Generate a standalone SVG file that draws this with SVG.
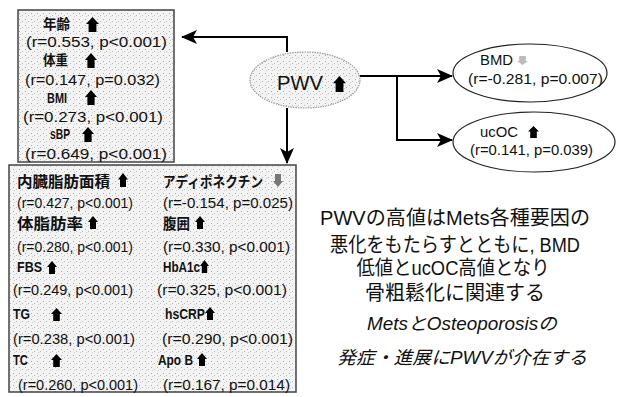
<svg xmlns="http://www.w3.org/2000/svg" xmlns:xlink="http://www.w3.org/1999/xlink" width="625" height="397" viewBox="0 0 625 397">
<style>
text{font-family:"Liberation Sans","Noto Sans CJK JP",sans-serif;fill:#111}
.lb{font-size:14px;font-weight:bold}
.jp{font-size:15px;font-weight:bold}
.nm{font-size:14px}
.big{font-size:20px}
.it{font-size:18px;font-style:italic}
.box{fill:url(#stip);stroke:#444;stroke-width:1.5}
.conn{fill:none;stroke:#000;stroke-width:2}
</style>
<defs>
<pattern id="stip" width="6" height="6" patternUnits="userSpaceOnUse">
<rect width="6" height="6" fill="#f3f3f3"/>
<rect x="1" y="1" width="1" height="1" fill="#aaa"/>
<rect x="4" y="3" width="1" height="1" fill="#bbb"/>
<rect x="2" y="4" width="1" height="1" fill="#ccc"/>
</pattern>
<symbol id="up" viewBox="0 0 10 12" preserveAspectRatio="none">
<path d="M5,0 L10,5.5 L8,5.5 L8,12 L2,12 L2,5.5 L0,5.5 Z"/>
</symbol>
<symbol id="down" viewBox="0 0 10 12" preserveAspectRatio="none">
<path d="M2,0 L8,0 L8,6.5 L10,6.5 L5,12 L0,6.5 L2,6.5 Z"/>
</symbol>
<marker id="ah" viewBox="0 0 16 14" refX="15" refY="7" markerWidth="16" markerHeight="14" markerUnits="userSpaceOnUse" orient="auto">
<path d="M0,0 L16,7 L0,14 L4,7 Z" fill="#000"/>
</marker>
</defs>
<rect width="625" height="397" fill="#fff"/>

<g id="connectors">
<path class="conn" d="M287,52 V37 H182" marker-end="url(#ah)"/>
<path class="conn" d="M287,108 V163" marker-end="url(#ah)"/>
<path class="conn" d="M360,76 H452" marker-end="url(#ah)"/>
<path class="conn" d="M397,76 V140 H452" marker-end="url(#ah)"/>
</g>

<g id="pwv">
<ellipse cx="305" cy="80" rx="55" ry="28" fill="url(#stip)" stroke="#999" stroke-width="1.2" stroke-dasharray="1.5 1"/>
<text class="big" x="277" y="90" textLength="46" lengthAdjust="spacingAndGlyphs">PWV</text>
<use href="#up" x="333" y="76" width="13" height="16"/>
</g>

<g id="bmd">
<ellipse cx="530" cy="73" rx="77" ry="29" fill="#fff" stroke="#222" stroke-width="1.2"/>
<text class="nm" x="480" y="65" textLength="33" lengthAdjust="spacingAndGlyphs">BMD</text>
<use href="#down" x="517" y="56" width="11" height="9" fill="#bbb"/>
<text class="nm" x="468" y="84" textLength="135" lengthAdjust="spacingAndGlyphs">(r=-0.281, p=0.007)</text>
</g>

<g id="ucoc">
<ellipse cx="534" cy="142" rx="81" ry="30" fill="#fff" stroke="#222" stroke-width="1.2"/>
<text class="nm" x="480" y="137" textLength="38" lengthAdjust="spacingAndGlyphs">ucOC</text>
<use href="#up" x="528" y="126" width="11" height="12"/>
<text class="nm" x="470" y="155" textLength="123" lengthAdjust="spacingAndGlyphs">(r=0.141, p=0.039)</text>
</g>

<g id="box-top">
<rect class="box" x="18" y="10" width="156" height="152"/>
<text class="lb" x="43" y="29" textLength="27" lengthAdjust="spacingAndGlyphs">年齢</text>
<use href="#up" x="86" y="17" width="13" height="15"/>
<text class="nm" x="26" y="47" textLength="141" lengthAdjust="spacingAndGlyphs">(r=0.553, p&lt;0.001)</text>
<text class="lb" x="43" y="65" textLength="25" lengthAdjust="spacingAndGlyphs">体重</text>
<use href="#up" x="85" y="53" width="12" height="15"/>
<text class="nm" x="25" y="85" textLength="135" lengthAdjust="spacingAndGlyphs">(r=0.147, p=0.032)</text>
<text class="lb" x="47" y="103" textLength="20" lengthAdjust="spacingAndGlyphs">BMI</text>
<use href="#up" x="85" y="90" width="12" height="15"/>
<text class="nm" x="23" y="122" textLength="140" lengthAdjust="spacingAndGlyphs">(r=0.273, p&lt;0.001)</text>
<text class="lb" x="50" y="139" textLength="20" lengthAdjust="spacingAndGlyphs">sBP</text>
<use href="#up" x="82" y="127" width="12" height="15"/>
<text class="nm" x="25" y="159" textLength="142" lengthAdjust="spacingAndGlyphs">(r=0.649, p&lt;0.001)</text>
</g>

<g id="box-bottom">
<rect class="box" x="9" y="165" width="287" height="227"/>
<text class="jp" x="17" y="187" textLength="93" lengthAdjust="spacingAndGlyphs">内臓脂肪面積</text>
<use href="#up" x="118" y="173" width="10" height="14"/>
<text class="nm" x="17" y="208" textLength="116" lengthAdjust="spacingAndGlyphs">(r=0.427, p&lt;0.001)</text>
<text class="jp" x="17" y="229" textLength="66" lengthAdjust="spacingAndGlyphs">体脂肪率</text>
<use href="#up" x="88" y="216" width="10" height="13"/>
<text class="nm" x="17" y="252" textLength="116" lengthAdjust="spacingAndGlyphs">(r=0.280, p&lt;0.001)</text>
<text class="lb" x="17" y="272" textLength="25" lengthAdjust="spacingAndGlyphs">FBS</text>
<use href="#up" x="47" y="261" width="10" height="13"/>
<text class="nm" x="13" y="295" textLength="120" lengthAdjust="spacingAndGlyphs">(r=0.249, p&lt;0.001)</text>
<text class="lb" x="13" y="319" textLength="17" lengthAdjust="spacingAndGlyphs">TG</text>
<use href="#up" x="51" y="308" width="11" height="13"/>
<text class="nm" x="13" y="344" textLength="122" lengthAdjust="spacingAndGlyphs">(r=0.238, p&lt;0.001)</text>
<text class="lb" x="13" y="365" textLength="15" lengthAdjust="spacingAndGlyphs">TC</text>
<use href="#up" x="51" y="354" width="11" height="13"/>
<text class="nm" x="18" y="390" textLength="120" lengthAdjust="spacingAndGlyphs">(r=0.260, p&lt;0.001)</text>

<text class="jp" x="163" y="187" textLength="100" lengthAdjust="spacingAndGlyphs">アディポネクチン</text>
<use href="#down" x="273" y="174" width="10" height="13" fill="#777"/>
<text class="nm" x="163" y="208" textLength="130" lengthAdjust="spacingAndGlyphs">(r=-0.154, p=0.025)</text>
<text class="jp" x="163" y="229" textLength="27" lengthAdjust="spacingAndGlyphs">腹囲</text>
<use href="#up" x="195" y="216" width="10" height="13"/>
<text class="nm" x="163" y="252" textLength="127" lengthAdjust="spacingAndGlyphs">(r=0.330, p&lt;0.001)</text>
<text class="lb" x="163" y="272" textLength="37" lengthAdjust="spacingAndGlyphs">HbA1c</text>
<use href="#up" x="200" y="260" width="9" height="13"/>
<text class="nm" x="157" y="295" textLength="130" lengthAdjust="spacingAndGlyphs">(r=0.325, p&lt;0.001)</text>
<text class="lb" x="165" y="319" textLength="40" lengthAdjust="spacingAndGlyphs">hsCRP</text>
<use href="#up" x="205" y="307" width="10" height="13"/>
<text class="nm" x="162" y="344" textLength="131" lengthAdjust="spacingAndGlyphs">(r=0.290, p&lt;0.001)</text>
<text class="lb" x="158" y="365" textLength="35" lengthAdjust="spacingAndGlyphs">Apo B</text>
<use href="#up" x="197" y="353" width="10" height="13"/>
<text class="nm" x="163" y="390" textLength="127" lengthAdjust="spacingAndGlyphs">(r=0.167, p=0.014)</text>
</g>

<g id="summary">
<text class="big" x="455" y="225" text-anchor="middle" textLength="270" lengthAdjust="spacingAndGlyphs">PWVの高値はMets各種要因の</text>
<text class="big" x="455" y="252" text-anchor="middle" textLength="250" lengthAdjust="spacingAndGlyphs">悪化をもたらすとともに, BMD</text>
<text class="big" x="453" y="275" text-anchor="middle" textLength="193" lengthAdjust="spacingAndGlyphs">低値とucOC高値となり</text>
<text class="big" x="455" y="300" text-anchor="middle" textLength="180" lengthAdjust="spacingAndGlyphs">骨粗鬆化に関連する</text>
<text class="it" x="462" y="330" text-anchor="middle" textLength="190" lengthAdjust="spacingAndGlyphs">MetsとOsteoporosisの</text>
<text class="it" x="462" y="364" text-anchor="middle" textLength="250" lengthAdjust="spacingAndGlyphs">発症・進展にPWVが介在する</text>
</g>
</svg>
